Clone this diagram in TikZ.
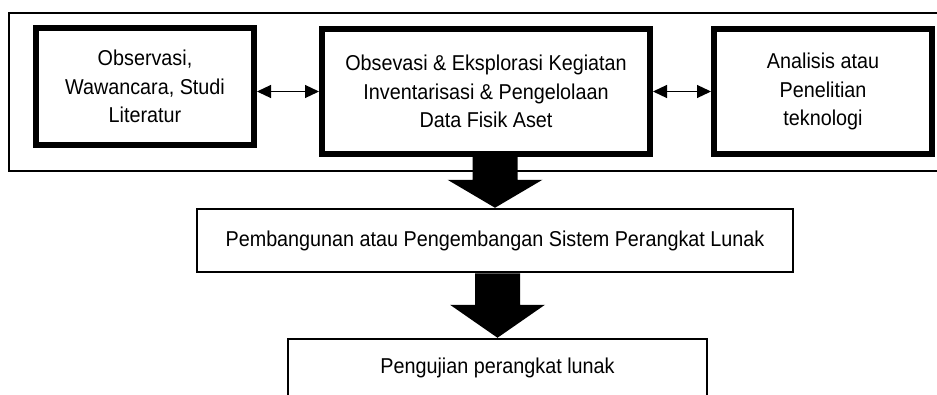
\documentclass[tikz,border=0pt]{standalone}
\usepackage{fontspec}
\setmainfont[FakeStretch=0.92]{Liberation Sans}
\usetikzlibrary{calc,arrows.meta}

\newcommand{\flowfont}{\fontsize{21.5}{28.5}\selectfont}
% block arrow: start, tip, head length
\newcommand{\blockarrow}[3]{%
  \fill ($(#1)+(-22.5,0)$) -- ($(#2)+(-22.5,-#3)$) -- ($(#2)+(-47.5,-#3)$) -- (#2)
    -- ($(#2)+(47.5,-#3)$) -- ($(#2)+(22.5,-#3)$) -- ($(#1)+(22.5,0)$) -- cycle;}

\tikzset{
  boldbox/.style={draw, line width=6pt, minimum width=218pt, minimum height=117pt, align=center, font=\flowfont},
  thinbox/.style={draw, line width=2.5pt, align=center, font=\flowfont},
  linkarrow/.style={line width=1.2pt, {Triangle[length=14pt,width=13pt]}-{Triangle[length=14pt,width=13pt]}},
}

\begin{document}
\begin{tikzpicture}[x=1pt,y=1pt,yscale=-1]
		\useasboundingbox (0,0) rectangle (937,394);
		\clip (0,0) rectangle (937,394);
		
		%Shape: Rectangle [outer frame]
		\draw [line width=2.2pt] (9,13) rectangle (950,171);
		
		% Text Node
		\node [boldbox] (obs) at (145,86.5) {Observasi,\\Wawancara, Studi\\Literatur};
		% Text Node
		\node [boldbox, minimum width=328pt, minimum height=125pt] (ekspl) at (486,91.5) {Obsevasi \& Eksplorasi Kegiatan\\Inventarisasi \& Pengelolaan\\Data Fisik Aset};
		% Text Node
		\node [boldbox, minimum height=125pt] (anl) at (823,91.5) {Analisis atau\\Penelitian\\teknologi};
		% Text Node
		\node [thinbox, minimum width=596pt, minimum height=63pt] (bangun) at (495,240.5) {Pembangunan atau Pengembangan Sistem Perangkat Lunak};
		% Text Node
		\node [thinbox, minimum width=419pt, minimum height=58pt] (uji) at (497.5,368) {Pengujian perangkat lunak};
		
		%Straight Lines
		\draw [linkarrow] (obs.east |- ekspl.west) -- (ekspl.west);
		%Straight Lines
		\draw [linkarrow] (ekspl.east) -- (anl.west);
		
		%Shape: Down Arrow
		\blockarrow{bangun.north |- ekspl.south}{bangun.north}{28}
		%Shape: Down Arrow
		\blockarrow{uji.north |- bangun.south}{uji.north}{33}
	\end{tikzpicture}
\end{document}
